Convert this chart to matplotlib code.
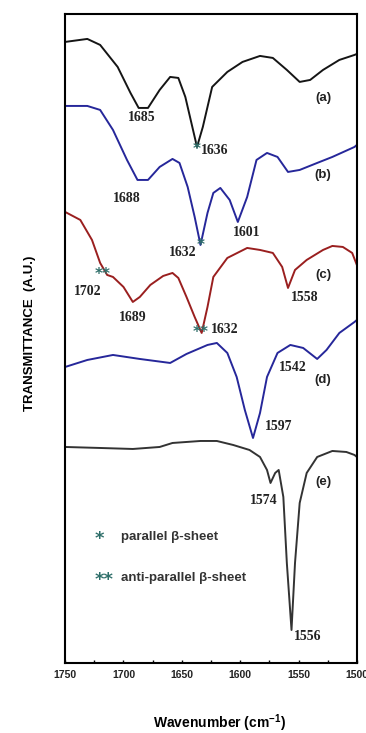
import matplotlib
matplotlib.use('Agg')
from matplotlib import pyplot as plt
from matplotlib.ticker import MultipleLocator

plt.rcParams['font.family'] = ['Liberation Sans', 'DejaVu Sans']
plt.rcParams['mathtext.fontset'] = 'custom'
plt.rcParams['mathtext.bf'] = 'Liberation Sans:bold'
plt.rcParams['mathtext.rm'] = 'Liberation Sans:bold'

# spectra (wavenumber, transmittance in arbitrary units, stacked)
wn_a = [1750, 1731, 1720, 1705, 1694, 1687, 1679, 1669, 1660, 1653, 1647, 1641, 1637,
        1632, 1624, 1611, 1598, 1583, 1572, 1560, 1549, 1540, 1529, 1515, 1502, 1500]
t_a = [62.1, 62.4, 61.8, 59.6, 57.0, 55.5, 55.5, 57.3, 58.6, 58.5, 56.6, 53.6, 51.6,
       53.6, 57.6, 59.1, 60.1, 60.7, 60.5, 59.3, 58.1, 58.3, 59.3, 60.3, 60.8, 60.9]

wn_b = [1750, 1731, 1720, 1709, 1697, 1688, 1679, 1669, 1658, 1652, 1645, 1639, 1634,
        1628, 1623, 1617, 1609, 1602, 1594, 1586, 1577, 1568, 1559, 1549, 1534, 1521,
        1502, 1500]
t_b = [55.7, 55.7, 55.3, 53.3, 50.3, 48.3, 48.3, 49.6, 50.4, 50.0, 47.6, 44.6, 41.8,
       45.0, 47.0, 47.5, 46.3, 44.1, 46.6, 50.3, 51.0, 50.6, 49.1, 49.3, 50.0, 50.6,
       51.6, 51.8]

wn_c = [1750, 1737, 1727, 1720, 1714, 1709, 1700, 1692, 1686, 1677, 1666, 1658, 1653,
        1646, 1639, 1633, 1628, 1623, 1611, 1594, 1583, 1572, 1564, 1559, 1553, 1543,
        1529, 1521, 1512, 1504, 1501, 1500]
t_c = [45.1, 44.3, 42.3, 40.0, 38.8, 38.6, 37.6, 36.1, 36.6, 37.8, 38.7, 39.0, 38.5,
       36.6, 34.6, 33.0, 35.6, 38.6, 40.5, 41.5, 41.3, 41.0, 39.6, 37.5, 39.3, 40.3,
       41.3, 41.7, 41.6, 41.0, 40.1, 39.8]

wn_d = [1750, 1731, 1709, 1686, 1660, 1646, 1628, 1620, 1611, 1603, 1596, 1589, 1583,
        1577, 1568, 1557, 1546, 1534, 1526, 1515, 1502, 1500]
t_d = [29.6, 30.3, 30.8, 30.4, 30.0, 30.9, 31.8, 32.0, 31.0, 28.6, 25.3, 22.5, 25.0,
       28.6, 31.0, 31.8, 31.5, 30.4, 31.3, 33.0, 34.1, 34.3]

wn_e = [1750, 1720, 1692, 1669, 1658, 1634, 1620, 1606, 1592, 1583, 1577, 1574, 1570,
        1567, 1563, 1560, 1556, 1553, 1549, 1543, 1534, 1521, 1509, 1502, 1500]
t_e = [21.6, 21.5, 21.4, 21.6, 22.0, 22.2, 22.2, 21.8, 21.3, 20.6, 19.3, 18.0, 19.0,
       19.3, 16.6, 10.0, 3.3, 10.0, 16.0, 19.0, 20.6, 21.2, 21.1, 20.8, 20.6]

# peak labels: (text, wavenumber, y)
peak_labels = [('1685', 1684, 54.5), ('1636', 1634, 51.2), ('1688', 1697, 46.4),
               ('1601', 1594, 43.0), ('1632', 1649, 41.0), ('1702', 1731, 37.1),
               ('1558', 1545, 36.5), ('1689', 1692, 34.5), ('1632', 1625, 33.3),
               ('1542', 1555, 29.5), ('1597', 1567, 23.6), ('1574', 1580, 16.2),
               ('1556', 1542, 2.6)]
left_aligned = {1, 8}
curve_tags = [('(a)', 56.5), ('(b)', 48.8), ('(c)', 38.8), ('(d)', 28.3), ('(e)', 18.1)]
# beta-sheet markers: (symbol, wavenumber, y)
stars = [('*', 1637, 51.3), ('*', 1634, 41.7), ('**', 1718, 38.8), ('**', 1634, 33.0)]

star_col = '#2f6f6a'
blue = '#26279a'

fig = plt.figure(figsize=(3.66, 7.33), dpi=100)
ax = fig.add_axes([0.178, 0.0955, 0.797, 0.8855])

ax.plot(wn_a, t_a, color='#151515', lw=1.4)
ax.plot(wn_b, t_b, color=blue, lw=1.4)
ax.plot(wn_c, t_c, color='#9a1f1f', lw=1.4)
ax.plot(wn_d, t_d, color=blue, lw=1.4)
ax.plot(wn_e, t_e, color='#333333', lw=1.4)

ax.set_xlim(1750, 1500)
ax.set_ylim(0, 64.9)

for i, (txt, x, y) in enumerate(peak_labels):
    ax.text(x, y, txt, family='Liberation Serif', fontweight='bold', fontsize=10,
            color='#222222', ha='left' if i in left_aligned else 'center', va='center')
for txt, y in curve_tags:
    ax.text(1529, y, txt, fontweight='bold', fontsize=9.5, color='#222222',
            ha='center', va='center')
for sym, x, y in stars:
    ax.text(x, y, sym, fontsize=11, fontweight='bold', color=star_col,
            ha='center', va='center', family='DejaVu Sans')

# legend
ax.text(1721, 12.4, '*', fontsize=13, fontweight='bold', color=star_col,
        ha='center', va='center', family='DejaVu Sans')
ax.text(1702, 12.6, 'parallel β-sheet', fontsize=9.5, fontweight='bold',
        color='#333333', ha='left', va='center')
ax.text(1717, 8.3, '**', fontsize=13, fontweight='bold', color=star_col,
        ha='center', va='center', family='DejaVu Sans')
ax.text(1702, 8.5, 'anti-parallel β-sheet', fontsize=9.5, fontweight='bold',
        color='#333333', ha='left', va='center')

ax.set_yticks([])
ax.xaxis.set_major_locator(MultipleLocator(50))
ax.xaxis.set_minor_locator(MultipleLocator(25))
ax.tick_params(axis='x', which='both', direction='in', length=2.5, width=1,
               labelsize=7.5, pad=5)
for lab in ax.get_xticklabels():
    lab.set_fontweight('bold')
    lab.set_color('#222222')
for sp in ax.spines.values():
    sp.set_linewidth(1.5)

fig.text(0.6, 0.014, r'Wavenumber (cm$^{\mathbf{-1}}$)', fontsize=10,
         fontweight='bold', ha='center', va='center')
fig.text(0.082, 0.545, 'TRANSMITTANCE  (A.U.)', fontsize=9.5, fontweight='bold',
         rotation=90, ha='center', va='center')

fig.savefig('out.png', dpi=100)
